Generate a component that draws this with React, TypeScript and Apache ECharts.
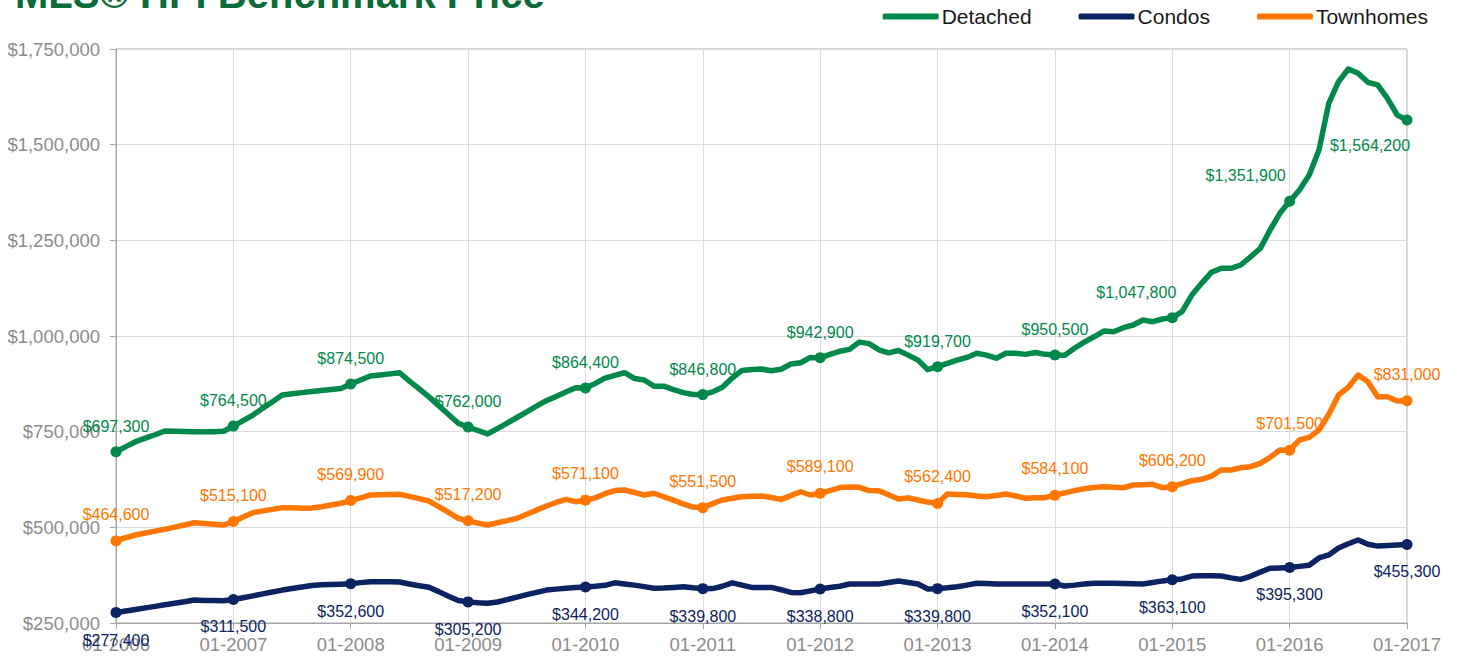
import React, { useEffect, useRef } from "react";
import * as echarts from "echarts";

const START_YEAR = 2006;
const MONTH_COUNT = 133;
const months: string[] = Array.from({ length: MONTH_COUNT }, (_, i) =>
  `${String((i % 12) + 1).padStart(2, "0")}-${START_YEAR + Math.floor(i / 12)}`
);

const detached: number[] = [
  697300, 711000, 723800, 733000, 742000, 751700, 751000, 750500, 750000, 749800, 750000, 751000,
  764500, 779000, 793500, 811000, 828000, 845800, 849000, 852000, 855000, 857500, 860000, 863000,
  874500, 885000, 895400, 898000, 901000, 904000, 882000, 862000, 841000, 818000, 795000, 772000,
  762000, 753000, 744000, 758000, 772500, 787000, 802000, 816500, 831000, 842000, 853500, 865000,
  864400, 876000, 890000, 897000, 904000, 889000, 885000, 869000, 869000, 860000, 852000, 847000,
  846800, 854000, 866000, 890000, 910000, 912500, 913700, 909000, 913000, 926800, 930000, 944000,
  942900, 952000, 960000, 965000, 984000, 980000, 964000, 956000, 962000, 950000, 937000, 912000,
  919700, 928700, 937000, 944000, 955000, 950000, 942000, 955000, 955000, 952000, 957000, 952000,
  950500, 950000, 968000, 984000, 998000, 1013000, 1011000, 1021700, 1028700, 1041700, 1037400, 1044400,
  1047800, 1063500, 1107000, 1137700, 1166400, 1176800, 1176800, 1185500, 1207000, 1229000, 1277000, 1320600,
  1351900, 1381500, 1420700, 1486000, 1608000, 1664500, 1697700, 1686400, 1663000, 1656000, 1621000, 1577500,
  1564200,
];

const condos: number[] = [
  277400, 281500, 285500, 289500, 293500, 297500, 301500, 305500, 310000, 309000, 308500, 308000,
  311500, 316000, 321000, 326000, 331000, 336000, 340000, 344000, 348000, 349800, 350500, 351500,
  352600, 355500, 358000, 357800, 357500, 357000, 352000, 347500, 343300, 332000, 320000, 309000,
  305200, 303000, 301500, 305000, 311000, 317500, 324000, 330000, 336000, 338500, 340600, 342500,
  344200, 346000, 348500, 355000, 352000, 349000, 345000, 341000, 341500, 343000, 344800, 342000,
  339800, 340000, 346000, 355000, 349000, 343000, 343000, 343000, 337000, 330000, 329000, 334000,
  338800, 343000, 346000, 352000, 352000, 352000, 352000, 356000, 359700, 356000, 352000, 339000,
  339800, 342000, 344800, 349000, 353700, 353000, 352000, 352000, 352000, 352000, 352000, 352000,
  352100, 346700, 349000, 352000, 353800, 353800, 353800, 353000, 352500, 352000, 356000, 360000,
  363100, 365000, 372800, 373500, 373300, 373000, 368000, 364000, 372000, 383000, 393000, 394000,
  395300, 398000, 401000, 420000, 428000, 446000, 457000, 467000, 455600, 451000, 452500, 454000,
  455300,
];

const townhomes: number[] = [
  464600, 473000, 480000, 485000, 490000, 494800, 500500, 506000, 512000, 510000, 508000, 506000,
  515100, 527000, 538200, 543000, 547000, 551300, 551000, 550000, 550500, 554000, 558500, 562800,
  569900, 577000, 584500, 585000, 586000, 586300, 581000, 575000, 568800, 554000, 539000, 523600,
  517200, 511000, 506000, 512000, 517500, 523600, 534000, 545000, 555700, 565000, 573000, 567000,
  571100, 577000, 588000, 596000, 597600, 591000, 584500, 589000, 580000, 571000, 561000, 553000,
  551500, 562000, 571400, 576000, 580000, 581000, 582000, 578000, 573000, 583000, 593000, 584500,
  589100, 596000, 604000, 605500, 604600, 596000, 595700, 585000, 574000, 577000, 571400, 566000,
  562400, 587000, 586000, 585000, 582000, 580000, 583000, 587000, 582000, 576000, 577000, 577500,
  584100, 590000, 596000, 601000, 604000, 606000, 605000, 603500, 610600, 611500, 612400, 603600,
  606200, 614000, 621800, 625500, 634000, 649800, 649800, 655800, 658400, 667300, 683000, 702100,
  701500, 728200, 735000, 754300, 795000, 846000, 866000, 898000, 880500, 841000, 841000, 830000,
  831000,
];

const Y_MIN = 250000;
const Y_MAX = 1750000;
const Y_STEP = 250000;

const GREEN = "#00894a";
const NAVY = "#0b2363";
const ORANGE = "#ff7600";
const FONT = "Liberation Sans, Arial, sans-serif";

const fmt = (v: number) => "$" + v.toLocaleString("en-US");

type Tweak = { position?: string; offset?: number[] };

const detachedTweaks: Record<number, Tweak> = {
  108: { offset: [-36, 0] },
  120: { offset: [-44, 0] },
  132: { position: "bottom", offset: [-37, 0] },
};

function buildData(values: number[], color: string, position: string, distance: number, tweaks: Record<number, Tweak>) {
  return values.map((v, i) => {
    if (i % 12 !== 0) return { value: v, symbolSize: 0, label: { show: false } };
    const t = tweaks[i] || {};
    return {
      value: v,
      symbolSize: 11,
      label: {
        show: true,
        position: t.position || position,
        offset: t.offset || [0, 0],
        distance,
        color,
        fontSize: 16,
        fontFamily: FONT,
        formatter: () => fmt(v),
      },
    };
  });
}

function makeSeries(name: string, values: number[], color: string, position: string, distance: number, tweaks: Record<number, Tweak> = {}) {
  return {
    name,
    type: "line",
    data: buildData(values, color, position, distance, tweaks),
    symbol: "circle",
    showAllSymbol: true,
    smooth: false,
    color,
    lineStyle: { width: 5.5, color, cap: "round", join: "round" },
    itemStyle: { color },
    emphasis: { disabled: true },
  };
}

export default function App() {
  const ref = useRef<HTMLDivElement>(null);
  useEffect(() => {
    if (!ref.current) return;
    const chart = echarts.init(ref.current, undefined, { renderer: "svg" });
    chart.setOption({
      animation: false,
      backgroundColor: "#ffffff",
      title: {
        text: "MLS® HPI Benchmark Price",
        left: 10,
        top: -31,
        textStyle: {
          fontSize: 40,
          fontWeight: "bold",
          color: "#0b6b3a",
          fontFamily: FONT,
        },
      },
      legend: {
        right: 25,
        top: 1,
        itemWidth: 56,
        itemHeight: 6,
        itemGap: 47,
        icon: "roundRect",
        textStyle: { fontSize: 21, color: "#1a1a1a", fontFamily: FONT, padding: [0, 0, 0, -2] },
        data: ["Detached", "Condos", "Townhomes"],
      },
      grid: {
        left: 116,
        right: 51,
        top: 49,
        bottom: 35,
        show: true,
        borderColor: "#a6a6a6",
        borderWidth: 1,
      },
      xAxis: {
        type: "category",
        data: months,
        boundaryGap: false,
        axisLine: { show: true, lineStyle: { color: "#a6a6a6", width: 1 } },
        axisTick: { show: true, interval: 11, length: 6, lineStyle: { color: "#a6a6a6" } },
        axisLabel: {
          interval: 11,
          margin: 12,
          color: "#8c8c8c",
          fontSize: 18.5,
          fontFamily: FONT,
        },
        splitLine: { show: true, interval: 11, lineStyle: { color: "#dcdcdc", width: 1 } },
      },
      yAxis: {
        type: "value",
        min: Y_MIN,
        max: Y_MAX,
        interval: Y_STEP,
        axisLine: { show: true, lineStyle: { color: "#a6a6a6", width: 1 } },
        axisTick: { show: true, length: 6, lineStyle: { color: "#a6a6a6" } },
        axisLabel: {
          margin: 16,
          color: "#8c8c8c",
          fontSize: 18.5,
          fontFamily: FONT,
          formatter: (v: number) => fmt(v),
        },
        splitLine: { show: true, lineStyle: { color: "#dcdcdc", width: 1 } },
      },
      series: [
        makeSeries("Detached", detached, GREEN, "top", 12, detachedTweaks),
        makeSeries("Condos", condos, NAVY, "bottom", 14),
        makeSeries("Townhomes", townhomes, ORANGE, "top", 13),
      ],
    });
    return () => chart.dispose();
  }, []);
  return <div ref={ref} style={{ position: "fixed", left: 0, top: 0, width: 1458, height: 658 }} />;
}
